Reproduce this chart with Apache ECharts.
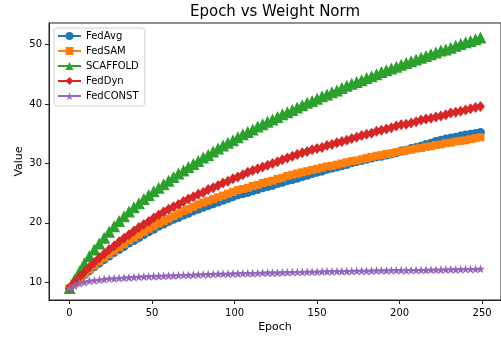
<!DOCTYPE html>
<html><head><meta charset="utf-8">
<script src="https://cdn.jsdelivr.net/npm/echarts@6/dist/echarts.min.js"></script>
<style>html,body{margin:0;padding:0;background:#fff}#c{width:501px;height:338px}</style>
</head><body><div id="c"></div>
<script>
const epochs = [0,3,6,9,12,15,18,21,24,27,30,33,36,39,42,45,48,51,54,57,60,63,66,69,72,75,78,81,84,87,90,93,96,99,102,105,108,111,114,117,120,123,126,129,132,135,138,141,144,147,150,153,156,159,162,165,168,171,174,177,180,183,186,189,192,195,198,201,204,207,210,213,216,219,222,225,228,231,234,237,240,243,246,249];
const fedAvg = [9.0,9.8,10.5,11.3,11.9,12.6,13.2,13.8,14.4,15.0,15.5,16.0,16.6,17.0,17.5,18.0,18.5,18.9,19.4,19.8,20.2,20.6,20.9,21.3,21.6,22.0,22.3,22.6,22.9,23.2,23.5,23.8,24.1,24.4,24.7,24.9,25.1,25.4,25.6,25.9,26.1,26.3,26.6,26.8,27.1,27.3,27.5,27.8,28.0,28.3,28.5,28.7,29.0,29.2,29.4,29.6,29.8,30.1,30.3,30.5,30.7,30.9,31.1,31.2,31.4,31.6,31.8,32.1,32.2,32.5,32.7,32.9,33.2,33.4,33.7,33.9,34.1,34.3,34.4,34.6,34.8,34.9,35.05,35.2];
const fedSAM = [9.0,9.8,10.6,11.3,12.1,12.8,13.5,14.1,14.7,15.3,15.9,16.4,17.0,17.5,18.0,18.5,19.0,19.4,19.9,20.3,20.7,21.1,21.5,22.0,22.3,22.7,23.1,23.4,23.7,24.0,24.3,24.6,24.9,25.2,25.5,25.7,25.9,26.2,26.4,26.7,26.9,27.1,27.4,27.6,27.9,28.1,28.3,28.5,28.7,28.9,29.1,29.3,29.5,29.6,29.8,30.0,30.2,30.4,30.5,30.7,30.9,31.1,31.3,31.4,31.6,31.7,31.9,32.0,32.2,32.3,32.5,32.6,32.8,32.9,33.1,33.2,33.4,33.5,33.7,33.8,33.9,34.1,34.25,34.4];
const scaffold = [9.0,10.4,11.8,13.2,14.4,15.5,16.5,17.5,18.5,19.4,20.3,21.1,21.9,22.6,23.3,24.0,24.7,25.3,25.9,26.5,27.1,27.7,28.3,28.8,29.4,29.9,30.4,31.0,31.4,32.0,32.5,33.0,33.5,33.9,34.4,34.9,35.3,35.7,36.2,36.6,37.0,37.4,37.8,38.3,38.6,39.0,39.4,39.8,40.2,40.5,40.9,41.3,41.6,42.0,42.3,42.7,43.1,43.4,43.7,44.0,44.4,44.7,45.0,45.4,45.7,46.0,46.3,46.6,46.9,47.2,47.5,47.8,48.1,48.4,48.7,49.0,49.2,49.5,49.8,50.1,50.4,50.6,50.9,51.2];
const fedDyn = [9.0,10.0,10.9,11.7,12.5,13.3,14.1,14.8,15.5,16.1,16.8,17.4,18.0,18.6,19.2,19.7,20.2,20.8,21.3,21.8,22.3,22.7,23.1,23.6,24.0,24.4,24.8,25.1,25.6,25.9,26.3,26.7,27.0,27.4,27.7,28.1,28.5,28.8,29.1,29.4,29.7,30.0,30.3,30.6,30.9,31.2,31.5,31.8,32.0,32.3,32.5,32.7,33.0,33.2,33.5,33.7,33.9,34.2,34.4,34.7,34.9,35.1,35.4,35.6,35.8,36.0,36.3,36.5,36.6,36.8,37.0,37.3,37.5,37.6,37.8,38.0,38.2,38.5,38.6,38.8,39.0,39.2,39.4,39.6];
const fedConst = [9.0,9.4,9.8,10.0,10.2,10.3,10.4,10.5,10.6,10.6,10.7,10.75,10.8,10.85,10.9,10.95,10.98,11.0,11.04,11.07,11.1,11.13,11.16,11.19,11.22,11.25,11.28,11.31,11.34,11.37,11.4,11.4,11.41,11.44,11.47,11.5,11.5,11.51,11.54,11.57,11.6,11.6,11.61,11.64,11.67,11.7,11.7,11.71,11.74,11.75,11.75,11.78,11.8,11.8,11.83,11.85,11.85,11.87,11.9,11.9,11.9,11.93,11.95,11.95,11.98,12.0,12.0,12.0,12.0,12.03,12.05,12.05,12.06,12.09,12.1,12.1,12.12,12.15,12.15,12.17,12.2,12.2,12.21,12.25];
const xTicks = [0,50,100,150,200,250];
const yTicks = [10,20,30,40,50];
const seriesNames = ['FedAvg','FedSAM','SCAFFOLD','FedDyn','FedCONST'];
const colors = ['#1f77b4','#ff7f0e','#2ca02c','#d62728','#9467bd'];

const star = 'path://M0,-10 L2.35,-3.24 L9.51,-3.09 L3.80,1.24 L5.88,8.09 L0,4.0 L-5.88,8.09 L-3.80,1.24 L-9.51,-3.09 L-2.35,-3.24 Z';
const symbols = ['circle','rect','triangle','diamond',star];
const sizes = [9,8,12,[9,11],9];
const values = [fedAvg, fedSAM, scaffold, fedDyn, fedConst];
const font = 'DejaVu Sans';

const chart = echarts.init(document.getElementById('c'), null, {renderer:'canvas'});
chart.setOption({
  animation:false,
  color: colors,
  title:{text:'Epoch vs Weight Norm', left:275, top:5, textAlign:'center', padding:0,
    textStyle:{fontFamily:font, fontSize:15, fontWeight:'normal', color:'#000'}},
  grid:{left:49, top:23, width:453, height:281, show:true, borderColor:'#222', borderWidth:1, backgroundColor:'transparent'},
  legend:{orient:'vertical', left:54, top:28, padding:[3,6,5,3], itemGap:5, itemWidth:23, itemHeight:10,
    backgroundColor:'rgba(255,255,255,0.8)', borderColor:'#d0d0d0', borderWidth:1, borderRadius:3,
    textStyle:{fontFamily:font, fontSize:10, color:'#000', lineHeight:10}, data:seriesNames},
  xAxis:{type:'value', min:-12.45, max:261.45, name:'Epoch', nameLocation:'middle', nameGap:22, nameMoveOverlap:false,
    nameTextStyle:{fontFamily:font, fontSize:11, color:'#000'},
    axisLine:{show:true, onZero:false, lineStyle:{color:'#222', width:1}},
    axisTick:{show:true, length:4, customValues:xTicks, lineStyle:{color:'#222'}},
    axisLabel:{customValues:xTicks, margin:8, fontFamily:font, fontSize:10, color:'#000'},
    splitLine:{show:false}},
  yAxis:{type:'value', min:7.0, max:53.65, name:'Value', nameLocation:'middle', nameGap:24, nameMoveOverlap:false,
    nameTextStyle:{fontFamily:font, fontSize:11, color:'#000'},
    axisLine:{show:true, onZero:false, lineStyle:{color:'#222', width:1}},
    axisTick:{show:true, length:4, customValues:yTicks, lineStyle:{color:'#222'}},
    axisLabel:{customValues:yTicks, margin:7, fontFamily:font, fontSize:10, color:'#000'},
    splitLine:{show:false}},
  series: seriesNames.map((n,i)=>({
    name:n, type:'line', symbol:symbols[i], symbolSize:sizes[i], showAllSymbol:true,
    lineStyle:{width:1.5, color:colors[i]}, itemStyle:{color:colors[i]},
    data: epochs.map((e,j)=>[e, values[i][j]])
  }))
});
</script></body></html>
